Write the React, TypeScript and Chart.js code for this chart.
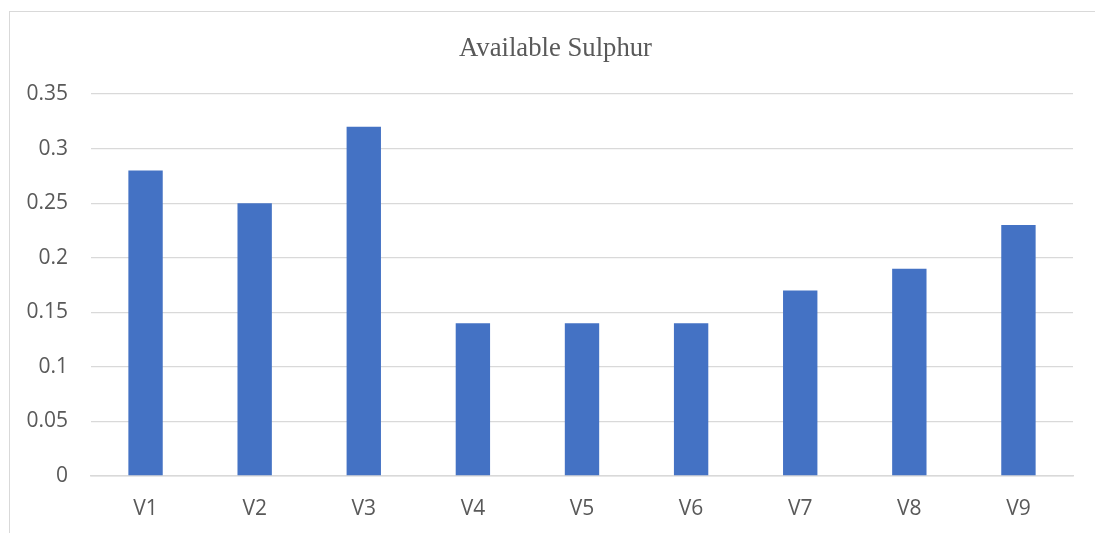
import React, { useEffect, useRef } from "react";
import { Chart, registerables } from "chart.js";

Chart.register(...registerables);

const categories = ["V1", "V2", "V3", "V4", "V5", "V6", "V7", "V8", "V9"];
const sulphurValues = [0.28, 0.25, 0.32, 0.14, 0.14, 0.14, 0.17, 0.19, 0.23];
const chartTitle = "Available Sulphur";
const yMax = 0.35;
const yStep = 0.05;

const titleShiftPlugin = {
  id: "titleShift",
  afterLayout(chart: any) {
    if (chart.titleBlock) {
      chart.titleBlock.left = 38;
    }
  },
};

export default function App() {
  const canvasRef = useRef<HTMLCanvasElement | null>(null);

  useEffect(() => {
    if (!canvasRef.current) return;
    const chart = new Chart(canvasRef.current, {
      type: "bar",
      data: {
        labels: categories,
        datasets: [
          {
            label: chartTitle,
            data: sulphurValues,
            backgroundColor: "#4472C4",
            borderWidth: 0,
            barPercentage: 0.315,
            categoryPercentage: 1,
          },
        ],
      },
      plugins: [titleShiftPlugin],
      options: {
        responsive: false,
        animation: false,
        layout: { padding: { left: 0, right: 22, top: 0, bottom: 0 } },
        plugins: {
          legend: { display: false },
          tooltip: { enabled: false },
          title: {
            display: true,
            text: chartTitle,
            color: "#595959",
            font: { family: "'Liberation Serif', 'Times New Roman', serif", size: 26.7, weight: "normal" },
            padding: { top: 33, bottom: 29 },
          },
        },
        scales: {
          x: {
            grid: { display: false, drawTicks: false },
            border: { display: true, color: "#d9d9d9", width: 1.5 },
            ticks: {
              color: "#595959",
              font: { family: "'Open Sans', sans-serif", size: 21 },
              padding: 20,
            },
            afterFit: (scale: any) => {
              scale.height = 57;
            },
          },
          y: {
            min: 0,
            max: yMax,
            grid: { color: "#d9d9d9", lineWidth: 1.3, drawTicks: false },
            border: { display: false },
            ticks: {
              stepSize: yStep,
              color: "#595959",
              font: { family: "'Open Sans', sans-serif", size: 21 },
              padding: 23,
              callback: (v: any) => String(Math.round(Number(v) * 100) / 100),
            },
            afterFit: (scale: any) => {
              scale.width = 91;
            },
          },
        },
      },
    });
    return () => chart.destroy();
  }, []);

  return (
    <div style={{ position: "fixed", left: 0, top: 0, width: 1095, height: 533, background: "#fff" }}>
      <div
        style={{
          position: "absolute",
          left: 9,
          top: 11,
          right: 0,
          bottom: 0,
          borderLeft: "1.5px solid #d9d9d9",
          borderTop: "1.5px solid #d9d9d9",
        }}
      />
      <canvas ref={canvasRef} width={1095} height={533} style={{ position: "absolute", left: 0, top: 0 }} />
    </div>
  );
}
